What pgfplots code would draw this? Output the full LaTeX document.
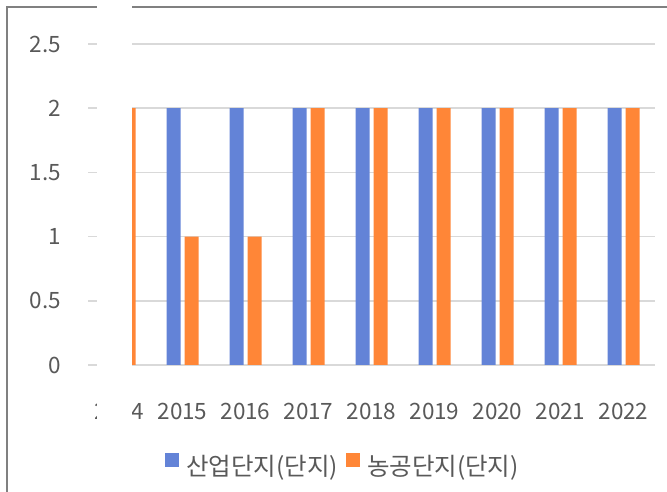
\documentclass[border=0pt]{standalone}
\usepackage{pgfplots}
\pgfplotsset{compat=1.18}
\usepackage{fontspec}
\setmainfont{Noto Sans CJK KR}
\definecolor{cblue}{RGB}{99,131,215}
\definecolor{corange}{RGB}{255,134,55}
\definecolor{cgrid}{RGB}{217,217,217}
\definecolor{ctext}{RGB}{89,89,89}
\definecolor{cborder}{RGB}{128,128,128}
\begin{document}
\begin{tikzpicture}[x=1bp,y=1bp]
\useasboundingbox (0,0) rectangle (667,492);
\draw[cborder, line width=2bp] (7,0) -- (7,485) -- (667,485);
\begin{axis}[
  at={(88bp,127bp)}, anchor=south west,
  scale only axis, width=567bp, height=321bp,
  xmin=2013.5, xmax=2022.5, ymin=0, ymax=2.5,
  ybar=4bp, bar width=14bp,
  axis line style={draw=none},
  tick style={draw=none},
  xtick={2014,2015,2016,2017,2018,2019,2020,2021,2022},
  xticklabels={2014,2015,2016,2017,2018,2019,2020,2021,2022},
  ytick={0,0.5,1,1.5,2,2.5},
  yticklabels={0,0.5,1,1.5,2,2.5},
  ymajorgrids, grid style={cgrid, line width=1.5bp},
  ticklabel style={font=\fontsize{22.5bp}{26bp}\selectfont, text=ctext, inner sep=0pt},
  yticklabel style={anchor=east, xshift=-27bp},
  xticklabel style={anchor=base, yshift=-50bp},
  legend columns=2,
  legend style={at={(0.448,-0.3115)}, anchor=center, draw=none, fill=none,
    font=\fontsize{24.5bp}{28bp}\selectfont, text=ctext,
    /tikz/every even column/.append style={column sep=8bp},
    nodes={inner sep=0pt}},
  legend image code/.code={\fill[#1] (0bp,-1bp) rectangle (14bp,13bp); \path (21bp,0bp);},
]
\addplot[fill=cblue, draw=none] coordinates {(2015,2) (2016,2) (2017,2) (2018,2) (2019,2) (2020,2) (2021,2) (2022,2)};
\addplot[fill=corange, draw=none] coordinates {(2014,2) (2015,1) (2016,1) (2017,2) (2018,2) (2019,2) (2020,2) (2021,2) (2022,2)};
\legend{산업단지(단지), 농공단지(단지)}
\end{axis}
\fill[white] (97,0) rectangle (132,492);
\end{tikzpicture}
\end{document}
